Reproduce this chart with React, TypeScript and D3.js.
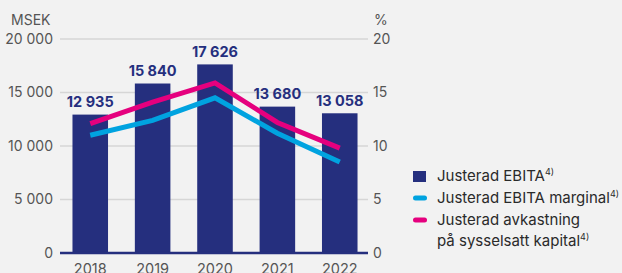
import React from 'react';
import * as d3 from 'd3';

// values
const years = ['2018', '2019', '2020', '2021', '2022'];
const ebita = [12935, 15840, 17626, 13680, 13058];
const ebitaMargin = [11.0, 12.4, 14.5, 11.2, 8.5];
const roce = [12.1, 14.1, 15.9, 12.2, 9.8];
const leftTicks = [0, 5000, 10000, 15000, 20000];
const rightTicks = [0, 5, 10, 15, 20];

const NAVY = '#252f7e';
const BLUE = '#00a3e0';
const PINK = '#e5007e';
const TEXT = '#555';
const FONT = 'Inter, "Noto Sans", sans-serif';

const fmt = (v: number) => d3.format(',')(v).replace(/,/g, ' ');

function App() {
    const W = 622, H = 273;
    const x = d3.scaleBand().domain(years).range([60, 370]).paddingInner(0.43).paddingOuter(0.2);
    const yL = d3.scaleLinear().domain([0, 20000]).range([253, 39]);
    const yR = d3.scaleLinear().domain([0, 20]).range([253, 39]);
    const cx = (d: string) => (x(d) as number) + x.bandwidth() / 2;

    const line = d3.line<number>()
        .x((_, i) => cx(years[i]))
        .y(v => yR(v));

    const legend = [
        { y: 181, label: 'Justerad EBITA', kind: 'bar', color: NAVY },
        { y: 203, label: 'Justerad EBITA marginal', kind: 'line', color: BLUE },
        { y: 225, label: 'Justerad avkastning', kind: 'line', color: PINK, second: 'på sysselsatt kapital' },
    ];

    return (
        <svg width={W} height={H} style={{ position: 'absolute', left: 0, top: 0, background: '#f2f2f2' }}
            fontFamily={FONT}>
            <rect width={W} height={H} fill="#f2f2f2" />
            {/* gridlines */}
            {leftTicks.filter(t => t > 0).map(t => (
                <line key={t} x1={60} x2={368} y1={yL(t)} y2={yL(t)} stroke="#d6d6d6" strokeWidth={1.5} />
            ))}
            {/* left axis labels */}
            <text x={11} y={25} fontSize={14} fill={TEXT}>MSEK</text>
            {leftTicks.map(t => (
                <text key={t} x={53} y={yL(t)} dy="0.35em" fontSize={14} fill={TEXT} textAnchor="end">{fmt(t)}</text>
            ))}
            {/* right axis labels */}
            <text x={374} y={25} fontSize={14} fill={TEXT}>%</text>
            {rightTicks.map(t => (
                <text key={t} x={373} y={yR(t)} dy="0.35em" fontSize={14} fill={TEXT}>{t}</text>
            ))}
            {/* bars */}
            {ebita.map((v, i) => (
                <rect key={years[i]} x={x(years[i])} y={yL(v)} width={x.bandwidth()} height={yL(0) - yL(v)} fill={NAVY} />
            ))}
            {ebita.map((v, i) => (
                <text key={'l' + years[i]} x={cx(years[i])} y={yL(v) - 7.5} fontSize={14.5} fontWeight={700}
                    fill={NAVY} textAnchor="middle">{fmt(v)}</text>
            ))}
            {/* baseline */}
            <line x1={60} x2={368} y1={yL(0)} y2={yL(0)} stroke={NAVY} strokeWidth={2.5} />
            {/* lines */}
            <path d={line(ebitaMargin) as string} fill="none" stroke={BLUE} strokeWidth={5} />
            <path d={line(roce) as string} fill="none" stroke={PINK} strokeWidth={5} />
            {/* x labels */}
            {years.map(y => (
                <text key={y} x={cx(y)} y={274} fontSize={14.5} fill={TEXT} textAnchor="middle">{y}</text>
            ))}
            {/* legend */}
            {legend.map(l => (
                <g key={l.label}>
                    {l.kind === 'bar'
                        ? <rect x={413} y={l.y - 10} width={13} height={11} fill={l.color} />
                        : <line x1={415.5} x2={424.5} y1={l.y - 5} y2={l.y - 5} stroke={l.color} strokeWidth={5} strokeLinecap="round" />}
                    <text x={437} y={l.y} fontSize={15} fill="#2a2a2a">
                        {l.second ? l.label : <>{l.label}<tspan fontSize={9} dy={-6}>4)</tspan></>}
                    </text>
                    {l.second && (
                        <text x={437} y={l.y + 21} fontSize={15} fill="#2a2a2a">
                            {l.second}<tspan fontSize={9} dy={-6}>4)</tspan>
                        </text>
                    )}
                </g>
            ))}
        </svg>
    );
}

export default App;
